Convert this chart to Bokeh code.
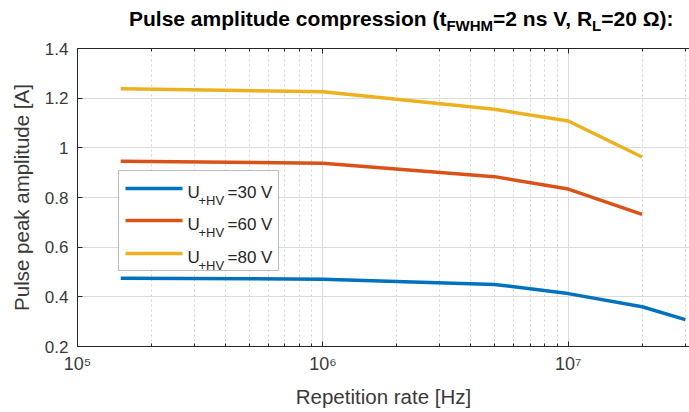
from bokeh.plotting import figure
from bokeh.models import (Range1d, LogAxis, FixedTicker, Label, BoxAnnotation, Div)
from bokeh.layouts import column
from bokeh.embed import file_html
from bokeh.resources import INLINE

# ---- data ----
rate_hz = [1.5e5, 1e6, 5e6, 1e7, 2e7, 3e7]
amp_30v = [0.475, 0.471, 0.450, 0.413, 0.360, 0.308]
amp_60v = [0.946, 0.938, 0.884, 0.834, 0.732]
amp_80v = [1.238, 1.226, 1.155, 1.108, 0.963]
series_names = ["30 V", "60 V", "80 V"]
x_major = [1e5, 1e6, 1e7]
x_major_labels = {1e5: "10\u2075", 1e6: "10\u2076", 1e7: "10\u2077"}
x_minor = [m * d for d in (1e5, 1e6, 1e7) for m in range(2, 10)]
y_ticks = [0.2, 0.4, 0.6, 0.8, 1.0, 1.2, 1.4]
y_labels = {0.2: "0.2", 0.4: "0.4", 0.6: "0.6", 0.8: "0.8", 1.0: "1", 1.2: "1.2", 1.4: "1.4"}

BLUE, ORANGE, YELLOW = "#0072BD", "#D95319", "#EDB120"
FONT = "Liberation Sans"
TXT = "#3a3a3a"

W, H = 689, 412
TITLE_H = 34
L, B = 77, 66
p = figure(width=W, height=H - TITLE_H, x_axis_type="log", output_backend="svg",
           toolbar_location=None, title=None,
           x_range=Range1d(1e5, 3.12e7), y_range=Range1d(0.2, 1.4),
           min_border_left=L, min_border_right=0, min_border_top=48 - TITLE_H,
           min_border_bottom=B, margin=0)
p.outline_line_color = None
p.background_fill_color = "white"
p.border_fill_color = "white"

# axes
for ax in (p.xaxis[0], p.yaxis[0]):
    ax.axis_line_color = "#262626"
    ax.major_tick_line_color = "#262626"
    ax.minor_tick_line_color = "#262626"
    ax.major_tick_in = 5
    ax.major_tick_out = 0
    ax.minor_tick_in = 3
    ax.minor_tick_out = 0
    ax.major_label_text_font = FONT
    ax.major_label_text_font_size = "17px"
    ax.major_label_text_color = TXT
    ax.axis_label_text_font = FONT
    ax.axis_label_text_font_size = "20.5px"
    ax.axis_label_text_font_style = "normal"
    ax.axis_label_text_color = TXT

p.xaxis.ticker = FixedTicker(ticks=x_major, minor_ticks=x_minor)
p.xaxis.major_label_overrides = x_major_labels
p.xaxis.major_label_text_font_size = "18px"
p.xaxis.major_label_standoff = 7
p.xaxis.axis_label = "Repetition rate [Hz]"
p.xaxis.axis_label_standoff = 8

p.yaxis.ticker = FixedTicker(ticks=y_ticks, minor_ticks=[])
p.yaxis.major_label_overrides = y_labels
p.yaxis.major_label_standoff = 9
p.yaxis.axis_label = "Pulse peak amplitude [A]"
p.yaxis.axis_label_standoff = 9

top = LogAxis(ticker=FixedTicker(ticks=x_major, minor_ticks=x_minor),
              major_label_text_font_size="0px", axis_line_color="#262626",
              major_tick_line_color="#262626", minor_tick_line_color="#262626",
              major_tick_in=5, major_tick_out=0, minor_tick_in=3, minor_tick_out=0,
              major_label_standoff=0)
top.major_label_overrides = {1e5: "", 1e6: "", 1e7: ""}
p.add_layout(top, "above")

# grids
p.xgrid.ticker = FixedTicker(ticks=x_major, minor_ticks=x_minor)
p.xgrid.grid_line_color = "#dcdcdc"
p.xgrid.minor_grid_line_color = "#d4d4d4"
p.xgrid.minor_grid_line_dash = "2 3"
p.ygrid.ticker = FixedTicker(ticks=y_ticks)
p.ygrid.grid_line_color = "#dcdcdc"

# data lines
p.line(rate_hz, amp_30v, line_color=BLUE, line_width=3.5)
p.line(rate_hz[:len(amp_60v)], amp_60v, line_color=ORANGE, line_width=3.5)
p.line(rate_hz[:len(amp_80v)], amp_80v, line_color=YELLOW, line_width=3.5)

# legend (manual, to allow subscripts)
p.add_layout(BoxAnnotation(left=41, right=201, top=176, bottom=76,
                           left_units="screen", right_units="screen",
                           top_units="screen", bottom_units="screen",
                           fill_color="white", fill_alpha=1,
                           line_color="#262626", line_width=1, level="overlay"))
rows_y = [158, 126, 93]
for name, col, ly in zip(series_names, [BLUE, ORANGE, YELLOW], rows_y):
    p.add_layout(BoxAnnotation(left=48, right=105, top=ly + 1.75, bottom=ly - 1.75,
                               left_units="screen", right_units="screen",
                               top_units="screen", bottom_units="screen",
                               fill_color=col, fill_alpha=1, line_color=None,
                               level="overlay"))
    base = ly - 3.5
    p.add_layout(Label(x=110, y=base, x_units="screen", y_units="screen", text="U",
                       text_font=FONT, text_font_size="17px", text_color="#262626",
                       text_baseline="alphabetic", level="overlay"))
    p.add_layout(Label(x=121, y=base - 8, x_units="screen", y_units="screen", text="+HV",
                       text_font=FONT, text_font_size="13px", text_color="#262626",
                       text_baseline="alphabetic", level="overlay"))
    p.add_layout(Label(x=150, y=base, x_units="screen", y_units="screen", text="=" + name,
                       text_font=FONT, text_font_size="17px", text_color="#262626",
                       text_baseline="alphabetic", level="overlay"))

# title (HTML, to allow subscripts)
title_html = ('<div style="position:absolute;left:129px;top:7px;white-space:nowrap;'
              'font-family:\'Liberation Sans\';font-weight:bold;font-size:21px;'
              'line-height:24px;color:black;">'
              'Pulse amplitude compression (t<sub style="font-size:15px;line-height:0;">FWHM</sub>'
              '=2 ns V, R<sub style="font-size:15px;line-height:0;">L</sub>=20 \u03a9):</div>')
title = Div(text=title_html, width=W, height=TITLE_H, margin=0,
            styles={"position": "relative", "overflow": "visible"})

layout = column(title, p, spacing=0, margin=0)
open("out.html", "w").write(file_html(layout, INLINE))
